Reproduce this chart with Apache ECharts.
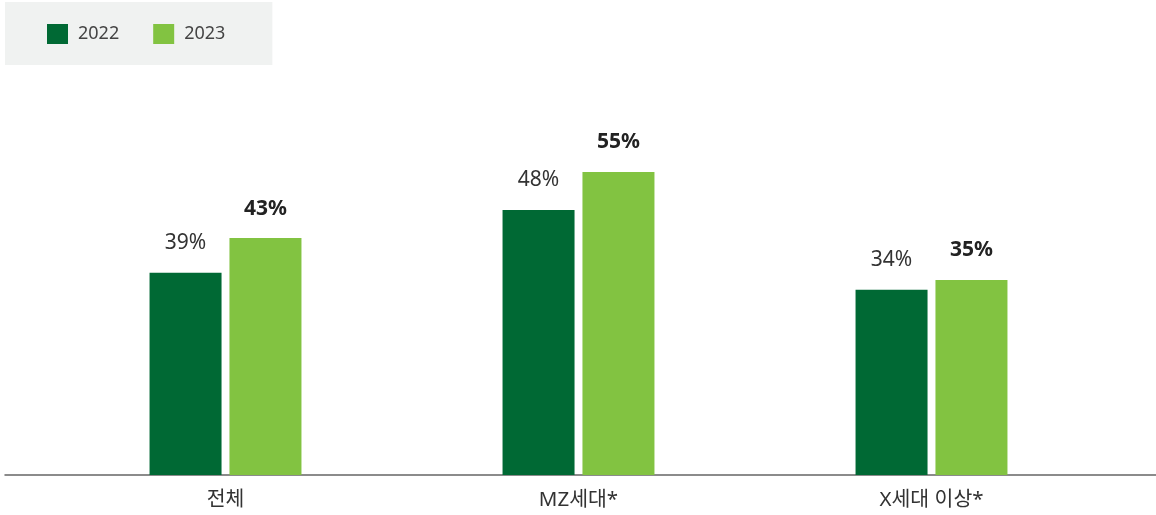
<!DOCTYPE html>
<html><head><meta charset="utf-8">
<script src="https://cdn.jsdelivr.net/npm/echarts@6/dist/echarts.min.js"></script>
<style>html,body{margin:0;padding:0;background:#fff}#c{width:1156px;height:515px}</style>
</head><body><div id="c"></div>
<script>
const categories = ['전체', 'MZ세대*', 'X세대 이상*'];
const seriesNames = ['2022', '2023'];
// bar heights (in %)
const values2022 = [36.7, 48.1, 33.6];
const values2023 = [43.0, 55.0, 35.4];
// printed labels
const labels2022 = ['39%', '48%', '34%'];
const labels2023 = ['43%', '55%', '35%'];

const FONT = '"Noto Sans", "Noto Sans CJK KR", sans-serif';
const chart = echarts.init(document.getElementById('c'));
chart.setOption({
  animation: false,
  textStyle: { fontFamily: FONT },
  legend: {
    left: 5, top: 2,
    backgroundColor: '#F0F2F1',
    padding: [22, 47, 21, 42],
    itemWidth: 21, itemHeight: 20, itemGap: 34,
    icon: 'rect',
    textStyle: { fontSize: 18, color: '#444', fontFamily: FONT, padding: [0, 0, 0, 5] },
    data: seriesNames
  },
  grid: [
    { left: 49, width: 1059, bottom: 40, top: 89.3 },
    { left: 5, right: 0, bottom: 40, top: 89.3 }
  ],
  xAxis: [
    { type: 'category', data: categories, gridIndex: 0,
      axisLine: { show: false }, axisTick: { show: false },
      axisLabel: { fontSize: 20.5, color: '#333', margin: 15, fontFamily: FONT } },
    { type: 'category', data: [''], gridIndex: 1,
      axisLine: { show: true, lineStyle: { color: '#666', width: 1.5 } },
      axisTick: { show: false }, axisLabel: { show: false } }
  ],
  yAxis: [
    { type: 'value', min: 0, max: 70, gridIndex: 0, show: false, splitLine: { show: false } },
    { type: 'value', min: 0, max: 70, gridIndex: 1, show: false, splitLine: { show: false } }
  ],
  series: [
    { name: seriesNames[0], type: 'bar', data: values2022, barWidth: 72, barGap: '11%',
      itemStyle: { color: '#006934' },
      label: { show: true, position: 'top', distance: 19, fontSize: 21, color: '#333',
        lineHeight: 21, fontFamily: FONT,
        formatter: p => labels2022[p.dataIndex] } },
    { name: seriesNames[1], type: 'bar', data: values2023, barWidth: 72, barGap: '11%',
      itemStyle: { color: '#82C341' },
      label: { show: true, position: 'top', distance: 19, fontSize: 21, color: '#222',
        fontWeight: 'bold', lineHeight: 21, fontFamily: FONT,
        formatter: p => labels2023[p.dataIndex] } }
  ]
});
</script></body></html>
